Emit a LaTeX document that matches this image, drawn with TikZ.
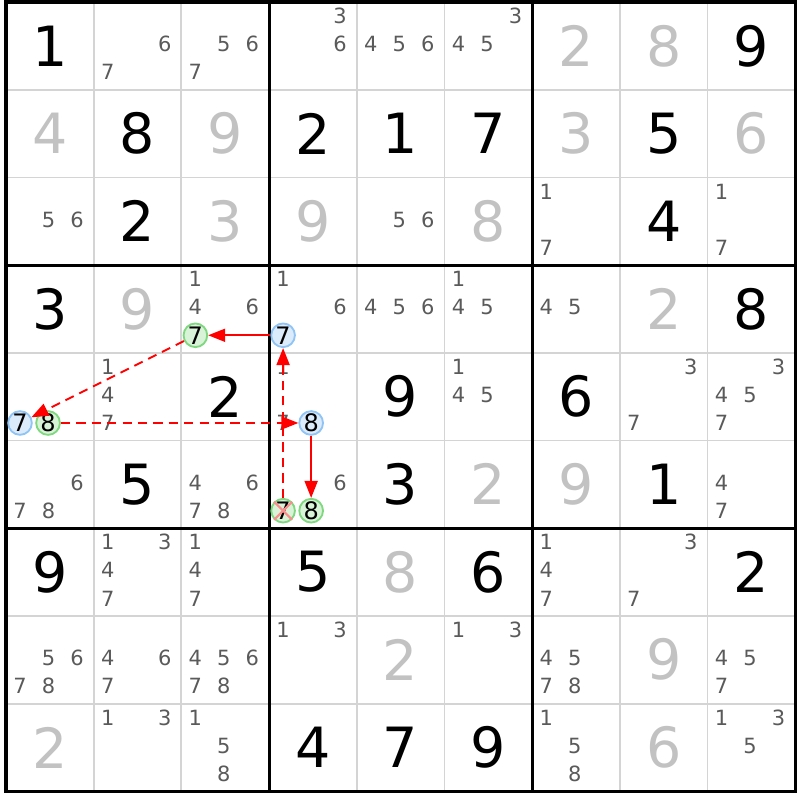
\documentclass[tikz,border=0pt]{standalone}
\usepackage{fontspec}
\setmainfont{DejaVu Sans}
\usepackage{tikz}
\usetikzlibrary{arrows.meta}
\definecolor{candgray}{HTML}{5A5A5A}
\definecolor{solvedgray}{HTML}{C2C2C2}
\definecolor{gridgray}{HTML}{D4D4D4}
\definecolor{chainblue}{HTML}{DCEBFB}
\definecolor{chainblueline}{HTML}{90C4F4}
\definecolor{chaingreen}{HTML}{D8F3D8}
\definecolor{chaingreenline}{HTML}{7FD87F}

\begin{document}
\begin{tikzpicture}[>={Triangle[length=5.5pt,width=4.2pt]},
    given node/.style={font=\fontsize{18}{18}\selectfont,inner sep=0pt},
    solved node/.style={given node,text=solvedgray},
    cand node/.style={font=\fontsize{6.8}{7}\selectfont,text=candgray,inner sep=0pt},
    blue node/.style={circle,draw=chainblueline,fill=chainblue,line width=0.6pt,inner sep=0pt,minimum size=0.27cm,font=\fontsize{7.8}{8}\selectfont},
    green node/.style={blue node,draw=chaingreenline,fill=chaingreen},
    link/.style={->,draw=red,line width=0.6pt},
    weak link/.style={link,dash pattern=on 3pt off 2pt}]
  \useasboundingbox (-0.068,0.023) rectangle (9.054,-9.099);
  % grid
  \foreach \i in {1,2,4,5,7,8} {
    \draw[gridgray,line width=0.6pt] (\i,0) -- (\i,-9);
    \draw[gridgray,line width=0.6pt] (0,-\i) -- (9,-\i);
  }
  \foreach \i in {3,6} {
    \draw[line width=1pt] (\i,0) -- (\i,-9);
    \draw[line width=1pt] (0,-\i) -- (9,-\i);
  }
  \draw[line width=1pt] (0,0) rectangle (9,-9);

  % givens and solved cells
  \foreach \row/\col/\d in {1/1/1,1/9/9,2/2/8,2/4/2,2/5/1,2/6/7,2/8/5,3/2/2,3/8/4,
      4/1/3,4/9/8,5/3/2,5/5/9,5/7/6,6/2/5,6/5/3,6/8/1,7/1/9,7/4/5,7/6/6,7/9/2,
      9/4/4,9/5/7,9/6/9}
    \node[given node] (g\row\col) at (\col-0.5,-\row+0.5) {\d};
  \foreach \row/\col/\d in {1/7/2,1/8/8,2/1/4,2/3/9,2/7/3,2/9/6,3/3/3,3/4/9,3/6/8,
      4/2/9,4/8/2,6/6/2,6/7/9,7/5/8,8/5/2,8/8/9,9/1/2,9/8/6}
    \node[solved node] (s\row\col) at (\col-0.5,-\row+0.5) {\d};

  % candidates
  \foreach \row/\col/\cands in {1/2/{6,7},1/3/{5,6,7},1/4/{3,6},1/5/{4,5,6},1/6/{3,4,5},
      3/1/{5,6},3/5/{5,6},3/7/{1,7},3/9/{1,7},
      4/3/{1,4,6},4/4/{1,6},4/5/{4,5,6},4/6/{1,4,5},4/7/{4,5},
      5/2/{1,4,7},5/4/{1,7},5/6/{1,4,5},5/8/{3,7},5/9/{3,4,5,7},
      6/1/{6,7,8},6/3/{4,6,7,8},6/4/{6},6/9/{4,7},
      7/2/{1,3,4,7},7/3/{1,4,7},7/7/{1,4,7},7/8/{3,7},
      8/1/{5,6,7,8},8/2/{4,6,7},8/3/{4,5,6,7,8},8/4/{1,3},8/6/{1,3},8/7/{4,5,7,8},8/9/{4,5,7},
      9/2/{1,3},9/3/{1,5,8},9/7/{1,5,8},9/9/{1,3,5}}
    \foreach \d in \cands {
      \pgfmathsetmacro{\dx}{\col-1+0.16+0.325*mod(\d-1,3)}
      \pgfmathsetmacro{\dy}{-(\row-1)-0.16-0.32*floor((\d-1)/3)}
      \node[cand node] (c\row\col\d) at (\dx,\dy) {\d};
    }

  % chain
  \node[green node] (seven43) at (2.16,-3.80) {7};
  \node[blue node] (seven44) at (3.16,-3.80) {7};
  \node[blue node] (seven51) at (0.16,-4.80) {7};
  \node[green node] (eight51) at (0.48,-4.80) {8};
  \node[blue node] (eight54) at (3.48,-4.80) {8};
  \node[green node] (seven64) at (3.16,-5.80) {7};
  \node[green node] (eight64) at (3.48,-5.80) {8};
  \draw[red!45,line width=0.7pt] (seven64.north west) -- (seven64.south east)
    (seven64.north east) -- (seven64.south west);

  \draw[link] (seven44) -- (seven43);
  \draw[weak link] (seven43) -- (seven51);
  \draw[weak link] (eight51) -- (eight54);
  \draw[link] (eight54) -- (eight64);
  \draw[weak link] (seven64) -- (seven44);
\end{tikzpicture}
\end{document}
